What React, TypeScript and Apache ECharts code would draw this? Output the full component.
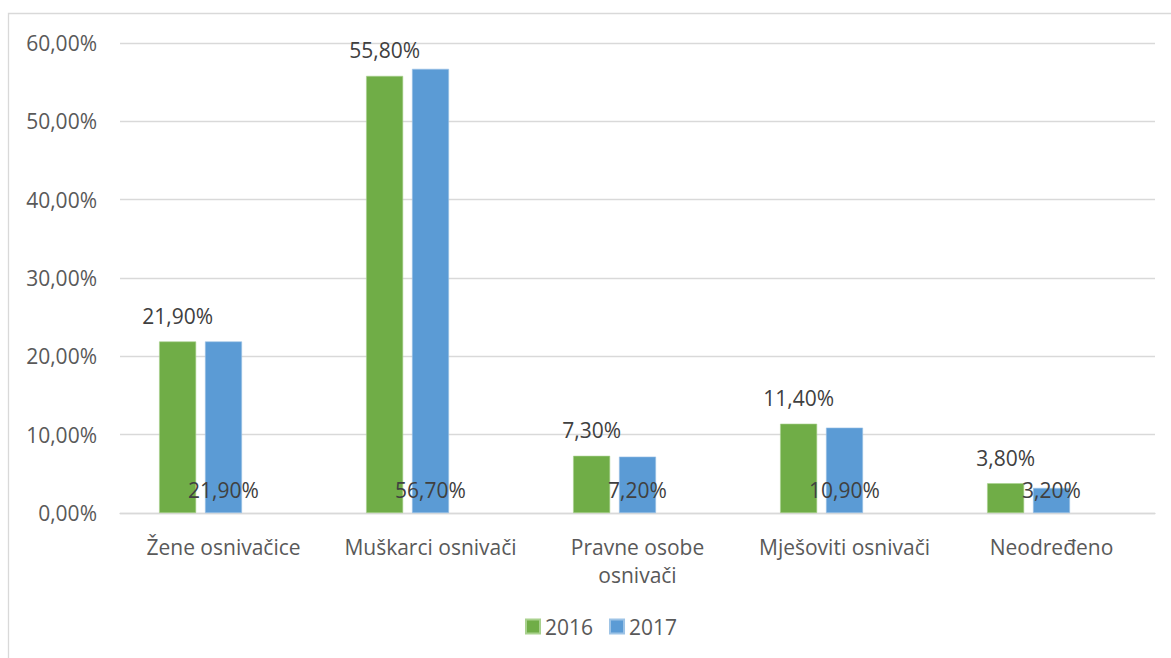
import React, { useEffect, useRef } from "react";
import * as echarts from "echarts";

const categories = [
  "Žene osnivačice",
  "Muškarci osnivači",
  "Pravne osobe\nosnivači",
  "Mješoviti osnivači",
  "Neodređeno",
];
const series2016 = [21.9, 55.8, 7.3, 11.4, 3.8];
const series2017 = [21.9, 56.7, 7.2, 10.9, 3.2];
const emptySeries = [null, null, null, null, null];
const yTicks = { min: 0, max: 60, interval: 10 };

const fmt = (v: number) => v.toFixed(2).replace(".", ",") + "%";

const FONT = "'Open Sans', 'Noto Sans', sans-serif";
const FS = 21;

export default function App() {
  const ref = useRef<HTMLDivElement>(null);
  useEffect(() => {
    if (!ref.current) return;
    const chart = echarts.init(ref.current, undefined, { renderer: "svg" });
    chart.setOption({
      animation: false,
      backgroundColor: "#ffffff",
      textStyle: { fontFamily: FONT },
      graphic: [
        {
          type: "rect",
          shape: { x: 8.5, y: 13.5, width: 1300, height: 800 },
          style: { fill: "none", stroke: "#d9d9d9", lineWidth: 1.3 },
          silent: true,
          z: -1,
        },
      ],
      grid: { left: 120, right: 16, top: 43, bottom: 145, containLabel: false },
      legend: {
        data: ["2016", "2017"],
        top: 616,
        left: 525,
        padding: 0,
        itemWidth: 14,
        itemHeight: 14,
        itemGap: 16,
        icon: "rect",
        textStyle: { fontSize: FS, color: "#595959", fontFamily: FONT, padding: [0, 0, 0, 0] },
      },
      xAxis: {
        type: "category",
        data: categories,
        axisLine: { show: true, lineStyle: { color: "#d9d9d9", width: 1.3 } },
        axisTick: { show: false },
        axisLabel: {
          fontSize: FS,
          color: "#595959",
          margin: 20,
          lineHeight: 28,
          interval: 0,
          fontFamily: FONT,
        },
      },
      yAxis: {
        type: "value",
        min: yTicks.min,
        max: yTicks.max,
        interval: yTicks.interval,
        axisLine: { show: false },
        axisTick: { show: false },
        splitLine: { lineStyle: { color: "#d9d9d9", width: 1.3 } },
        axisLabel: {
          fontSize: FS,
          color: "#595959",
          margin: 23,
          fontFamily: FONT,
          formatter: (v: number) => fmt(v),
        },
      },
      series: [
        {
          name: "2016",
          type: "bar",
          data: series2016,
          barWidth: 37,
          barGap: "24%",
          itemStyle: { color: "#70AD47", borderColor: "#a9d18e", borderWidth: 0.6 },
          label: {
            show: true,
            position: "top",
            distance: 15,
            fontSize: FS,
            color: "#404040",
            fontFamily: FONT,
            formatter: (p: any) => fmt(p.value),
          },
        },
        {
          name: "2017",
          type: "bar",
          data: series2017,
          barWidth: 37,
          barGap: "24%",
          itemStyle: { color: "#5B9BD5", borderColor: "#9dc3e6", borderWidth: 0.6 },
          label: {
            show: true,
            position: "insideBottom",
            distance: 13,
            fontSize: FS,
            color: "#404040",
            fontFamily: FONT,
            formatter: (p: any) => fmt(p.value),
          },
        },
        {
          name: "empty",
          type: "bar",
          data: emptySeries,
          barWidth: 37,
          barGap: "24%",
          itemStyle: { color: "transparent" },
          label: { show: false },
        },
      ],
    });
    return () => chart.dispose();
  }, []);
  return (
    <div
      ref={ref}
      style={{ position: "fixed", left: 0, top: 0, width: 1171, height: 658 }}
    />
  );
}
